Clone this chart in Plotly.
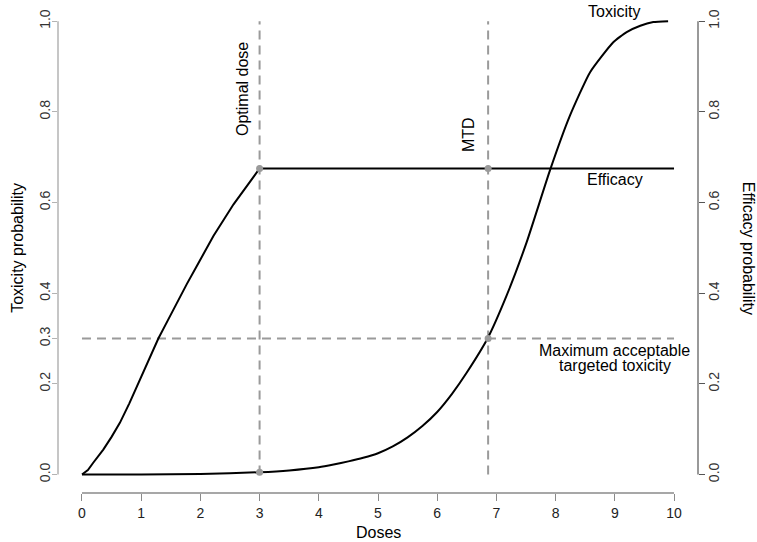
import plotly.graph_objects as go

# Data
eff_dose = [0, 0.1, 0.19, 0.36, 0.5, 0.64, 0.8, 0.98, 1.13, 1.29, 1.45, 1.6, 1.77, 1.94, 2.22, 2.56, 2.78, 3.0, 4.0, 5.0, 6.0, 7.0, 8.0, 9.0, 10.0]
eff_prob = [0, 0.01, 0.026, 0.055, 0.083, 0.114, 0.157, 0.21, 0.255, 0.30, 0.34, 0.379, 0.42, 0.46, 0.526, 0.596, 0.636, 0.675, 0.675, 0.675, 0.675, 0.675, 0.675, 0.675, 0.675]

tox_dose = [0, 1.0, 2.0, 3.0, 3.5, 4.0, 4.25, 4.5, 4.75, 5.0, 5.25, 5.5, 5.75, 6.0, 6.25, 6.5, 6.85, 7.17, 7.51, 7.91, 8.24, 8.58, 8.97, 9.2, 9.43, 9.65, 9.9]
tox_prob = [0, 0.0, 0.001, 0.005, 0.009, 0.016, 0.022, 0.029, 0.037, 0.047, 0.062, 0.082, 0.107, 0.138, 0.178, 0.225, 0.30, 0.394, 0.512, 0.673, 0.791, 0.887, 0.953, 0.976, 0.99, 0.998, 1.0]

optimal_dose = 3.0
mtd = 6.86
target_tox = 0.3
eff_plateau = 0.675
tox_at_opt = 0.005

x_ticks = list(range(0, 11))
left_ticks = [0.0, 0.2, 0.3, 0.4, 0.6, 0.8, 1.0]
right_ticks = [0.0, 0.2, 0.4, 0.6, 0.8, 1.0]

FONT = "Liberation Sans, Arial, sans-serif"
DASH_COL = "#9a9a9a"
DASH = "9px,6px"

fig = go.Figure()

# reference lines
fig.add_trace(go.Scatter(x=[optimal_dose, optimal_dose], y=[0, 1], mode="lines",
                         line=dict(color=DASH_COL, width=2, dash=DASH), hoverinfo="skip"))
fig.add_trace(go.Scatter(x=[mtd, mtd], y=[0, 1], mode="lines",
                         line=dict(color=DASH_COL, width=2, dash=DASH), hoverinfo="skip"))
fig.add_trace(go.Scatter(x=[0, 10], y=[target_tox, target_tox], mode="lines",
                         line=dict(color=DASH_COL, width=2, dash=DASH), hoverinfo="skip"))

# curves
fig.add_trace(go.Scatter(x=eff_dose, y=eff_prob, mode="lines", line=dict(color="black", width=2)))
fig.add_trace(go.Scatter(x=tox_dose, y=tox_prob, mode="lines",
                         line=dict(color="black", width=2, shape="spline", smoothing=0.5)))

# points
fig.add_trace(go.Scatter(x=[optimal_dose, mtd, mtd, optimal_dose],
                         y=[eff_plateau, eff_plateau, target_tox, tox_at_opt],
                         mode="markers", marker=dict(color="#9a9a9a", size=7)))

# right axis dummy
fig.add_trace(go.Scatter(x=[0], y=[0], yaxis="y2", mode="markers", marker=dict(opacity=0), hoverinfo="skip"))

def txt(x, y, s, angle=0):
    fig.add_annotation(x=x, y=y, xref="x", yref="y", text=s, showarrow=False, textangle=angle,
                       xanchor="center", yanchor="middle",
                       font=dict(family=FONT, size=16, color="black"))

txt(2.70, 0.85, "Optimal dose", angle=-90)
txt(6.53, 0.75, "MTD", angle=-90)
txt(8.99, 1.021, "Toxicity")
txt(9.0, 0.65, "Efficacy")
txt(9.0, 0.273, "Maximum acceptable")
txt(9.0, 0.240, "targeted toxicity")

# axis titles
fig.add_annotation(x=0, y=0.5, xref="paper", yref="y", text="Toxicity probability", showarrow=False,
                   textangle=-90, xanchor="center", yanchor="middle", xshift=-40,
                   font=dict(family=FONT, size=16, color="black"))
fig.add_annotation(x=1, y=0.5, xref="paper", yref="y", text="Efficacy probability", showarrow=False,
                   textangle=90, xanchor="center", yanchor="middle", xshift=50,
                   font=dict(family=FONT, size=16, color="black"))
fig.add_annotation(x=5, y=0, xref="x", yref="paper", text="Doses", showarrow=False,
                   xanchor="center", yanchor="middle", yshift=-39,
                   font=dict(family=FONT, size=16, color="black"))

# axis lines (R style: only spanning the ticks)
fig.add_shape(type="line", xref="x", yref="paper", x0=0, x1=10, y0=0, y1=0, line=dict(color="#8a8a8a", width=1.5))
fig.add_shape(type="line", xref="paper", yref="y", x0=0, x1=0, y0=0, y1=1, line=dict(color="#b3b3b3", width=1.5))
fig.add_shape(type="line", xref="paper", yref="y", x0=1, x1=1, y0=0, y1=1, line=dict(color="#555555", width=1.2))

fig.update_layout(
    width=757, height=542,
    margin=dict(l=58, r=59, t=4, b=49),
    paper_bgcolor="white", plot_bgcolor="white",
    showlegend=False,
    font=dict(family=FONT, size=14, color="black"),
    xaxis=dict(range=[-0.405, 10.405], tickvals=x_ticks, ticktext=[str(t) for t in x_ticks],
               showgrid=False, zeroline=False, showline=False,
               ticks="outside", ticklen=7, tickcolor="#8a8a8a", tickwidth=1.2,
               tickfont=dict(family=FONT, size=14, color="#222222")),
    yaxis=dict(range=[-0.0408, 1.0379], tickvals=left_ticks, ticktext=[f"{t:.1f}" for t in left_ticks],
               showgrid=False, zeroline=False, showline=False,
               ticks="outside", ticklen=5, tickcolor="#b3b3b3", tickwidth=1.2, tickangle=-90,
               ticklabelstandoff=-4,
               tickfont=dict(family=FONT, size=14, color="#333333")),
    yaxis2=dict(range=[-0.0408, 1.0379], overlaying="y", side="right",
                tickvals=right_ticks, ticktext=[f"{t:.1f}" for t in right_ticks],
                showgrid=False, zeroline=False, showline=False,
                ticks="outside", ticklen=6, tickcolor="#555555", tickwidth=1.2, tickangle=-90,
                ticklabelstandoff=-3,
                tickfont=dict(family=FONT, size=14, color="#333333")),
)

# remove the default 8px page margin so the figure fills the window exactly
fig.write_html("out.html", config={"displayModeBar": False},
               post_script="document.body.style.margin='0';document.body.style.overflow='hidden';")
